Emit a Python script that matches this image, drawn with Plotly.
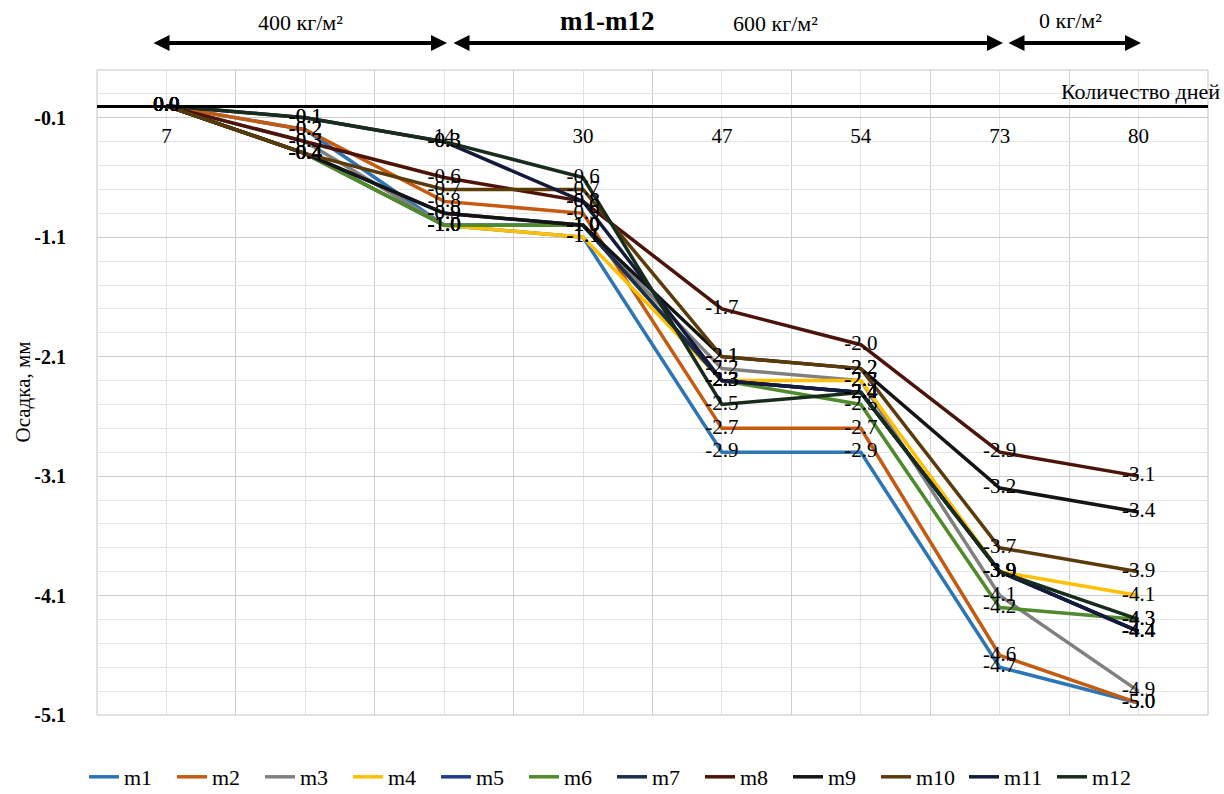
import numpy as np
import plotly.graph_objects as go

# ---------------- data ----------------
days = ["7", "", "14", "30", "47", "54", "73", "80"]
series_names = ["m1", "m2", "m3", "m4", "m5", "m6", "m7", "m8", "m9", "m10", "m11", "m12"]

m1 = [0.0, -0.2, -1.0, -1.1, -2.9, -2.9, -4.7, -5.0]
m2 = [0.0, -0.2, -0.8, -0.9, -2.7, -2.7, -4.6, -5.0]
m3 = [0.0, -0.3, -1.0, -1.0, -2.2, -2.3, -4.1, -4.9]
m4 = [0.0, -0.4, -1.0, -1.1, -2.3, -2.3, -3.9, -4.1]
m5 = [0.0, -0.4, -1.0, -1.0, -2.3, -2.4, -3.9, -4.4]
m6 = [0.0, -0.4, -1.0, -1.0, -2.3, -2.5, -4.2, -4.3]
m7 = [0.0, -0.4, -0.9, -1.0, -2.3, -2.4, -3.9, -4.4]
m8 = [0.0, -0.3, -0.6, -0.8, -1.7, -2.0, -2.9, -3.1]
m9 = [0.0, -0.4, -0.9, -1.0, -2.1, -2.2, -3.2, -3.4]
m10 = [0.0, -0.4, -0.7, -0.7, -2.1, -2.2, -3.7, -3.9]
m11 = [0.0, -0.1, -0.3, -0.8, -2.3, -2.4, -3.9, -4.4]
m12 = [0.0, -0.1, -0.3, -0.6, -2.5, -2.4, -3.9, -4.3]

series_values = [m1, m2, m3, m4, m5, m6, m7, m8, m9, m10, m11, m12]
y_tick_values = [-0.1, -1.1, -2.1, -3.1, -4.1, -5.1]
load_labels = ["400 кг/м²", "600 кг/м²", "0 кг/м²"]

# ---------------- styles ----------------
colors = ["#2E75B6", "#C55A11", "#808080", "#FFC000", "#1F3B8C", "#4F8A2B",
          "#1C2B4F", "#4C1308", "#141414", "#5C3B0B", "#131A3C", "#182C1C"]
FONT = "Liberation Serif, Times New Roman, DejaVu Serif, serif"

W, H = 1224, 794
L, R, T, B = 97, 16, 70, 79
plot_w = W - L - R
plot_h = H - T - B
y_min, y_max = -5.1, 0.3

fig = go.Figure()
xpos = list(range(len(days)))

for name, vals, col in zip(series_names, series_values, colors):
    fig.add_trace(go.Scatter(
        x=xpos, y=vals, mode="lines", name=name,
        line=dict(color=col, width=3.5),
        hoverinfo="skip",
    ))

# data labels on top of all lines
for name, vals in zip(series_names, series_values):
    fig.add_trace(go.Scatter(
        x=xpos, y=vals, mode="text", showlegend=False,
        text=[f"{v:.1f}" for v in vals],
        textposition="middle center",
        textfont=dict(family=FONT, size=21, color="black"),
        hoverinfo="skip",
    ))

zero_pos = (0 - y_min) / (y_max - y_min)

minor_y = [round(v, 1) for v in np.arange(y_min, y_max + 0.001, 0.2)
           if round(v, 1) not in y_tick_values]


def px_x(px):
    return (px - L) / plot_w


def px_y(py):
    return (H - B - py) / plot_h


fig.update_layout(
    width=W, height=H, autosize=False,
    margin=dict(l=L, r=R, t=T, b=B, autoexpand=False),
    paper_bgcolor="white", plot_bgcolor="white",
    font=dict(family=FONT, size=20, color="black"),
    showlegend=True,
    legend=dict(orientation="h", x=px_x(612), xanchor="center", y=px_y(777), yanchor="middle",
                font=dict(family=FONT, size=22, color="black"),
                entrywidth=43, entrywidthmode="pixels", itemwidth=30,
                bgcolor="rgba(0,0,0,0)"),
    xaxis=dict(
        range=[-0.5, len(days) - 0.5],
        tickmode="array", tickvals=xpos, ticktext=days,
        anchor="free", position=zero_pos, side="bottom",
        showline=True, linecolor="black", linewidth=2.5,
        ticks="", ticklabelstandoff=10,
        tickfont=dict(family=FONT, size=21, color="black"),
        showgrid=True, gridcolor="#E2E2E2", gridwidth=1,
        minor=dict(tickmode="array", tickvals=[i - 0.5 for i in range(len(days) + 1)],
                   showgrid=True, gridcolor="#CFCFCF", gridwidth=1, ticks=""),
        zeroline=False, fixedrange=True,
    ),
    yaxis=dict(
        range=[y_min, y_max],
        tickmode="array", tickvals=y_tick_values,
        ticktext=[f"{v:.1f}" for v in y_tick_values],
        ticks="", ticklabelstandoff=30,
        tickfont=dict(family=FONT, size=20, color="black", weight="bold"),
        showgrid=True, gridcolor="#CCCCCC", gridwidth=1,
        minor=dict(tickmode="array", tickvals=minor_y, showgrid=True,
                   gridcolor="#E6E6E6", gridwidth=1, ticks=""),
        zeroline=False, showline=False, fixedrange=True,
    ),
)

# plot-area border
fig.add_shape(type="rect", xref="paper", yref="paper", x0=0, x1=1, y0=0, y1=1,
              line=dict(color="#C4C4C4", width=1), layer="below")

# axis titles
fig.add_annotation(text="Осадка, мм", xref="paper", yref="paper",
                   x=px_x(22), y=0.5, textangle=-90, showarrow=False,
                   xanchor="center", yanchor="middle",
                   font=dict(family=FONT, size=21, color="black"))
fig.add_annotation(text="Количество дней", xref="paper", yref="paper",
                   x=px_x(1222), y=px_y(92), xanchor="right", yanchor="middle",
                   showarrow=False, font=dict(family=FONT, size=22, color="black"))

# load-stage arrows (double-headed)
cat_w = plot_w / len(days)
arrows = [(152, 447), (452, 1003), (1007, 1141)]
for x0, x1 in arrows:
    fig.add_annotation(
        xref="x", yref="paper", x=(x1 - L) / cat_w - 0.5, y=px_y(43),
        axref="pixel", ayref="pixel", ax=-(x1 - x0), ay=0,
        showarrow=True, arrowhead=2, arrowside="end+start",
        arrowsize=0.8, arrowwidth=4, arrowcolor="black", text="",
    )

# stage labels
stage_text = [(load_labels[0], 300, 22, 22, False),
              ("m1-m12", 607, 21, 27, True),
              (load_labels[1], 775, 24, 22, False),
              (load_labels[2], 1070, 20, 22, False)]
for txt, px, py, sz, bold in stage_text:
    fig.add_annotation(text=f"<b>{txt}</b>" if bold else txt,
                       xref="paper", yref="paper", x=px_x(px), y=px_y(py),
                       xanchor="center", yanchor="middle", showarrow=False,
                       font=dict(family=FONT, size=sz, color="black"))

fig.write_html("out.html")
